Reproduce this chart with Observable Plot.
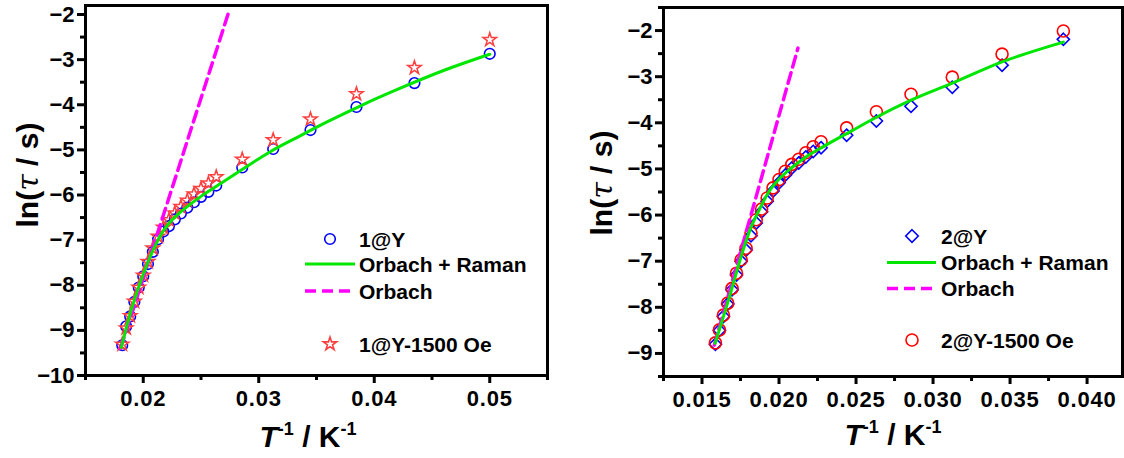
<!DOCTYPE html>
<html><head><meta charset="utf-8">
<script src="https://cdn.jsdelivr.net/npm/d3@7"></script>
<script src="https://cdn.jsdelivr.net/npm/@observablehq/plot@0.6"></script>
<style>
body{margin:0;background:#fff;}
#wrap{position:relative;width:1124px;height:458px;overflow:hidden;background:#fff;}
#wrap svg{position:absolute;top:0;}
#wrap svg g[aria-label="x-axis tick label"] text{letter-spacing:0.8px;}
</style></head><body><div id="wrap"></div>
<script>
const FONT = '"Liberation Sans", Arial, Helvetica, sans-serif';

// ---------- Left panel data (1@Y) ----------
const invT1 = [0.01818,0.01852,0.01887,0.01923,0.01961,0.02000,0.02041,0.02083,0.02128,0.02174,0.02222,0.02273,0.02326,0.02381,0.02439,0.02500,0.02564,0.02632,0.02857,0.03125,0.03448,0.03846,0.04348,0.05000];
const lnTau1Y = [-9.33,-8.91,-8.69,-8.37,-8.05,-7.80,-7.53,-7.26,-6.98,-6.81,-6.69,-6.54,-6.41,-6.28,-6.16,-6.04,-5.93,-5.79,-5.39,-4.98,-4.56,-4.05,-3.52,-2.87];
const lnTau1Oe = [-9.31,-8.95,-8.68,-8.36,-8.05,-7.78,-7.48,-7.18,-6.92,-6.72,-6.55,-6.40,-6.26,-6.12,-5.98,-5.86,-5.74,-5.60,-5.21,-4.78,-4.32,-3.76,-3.18,-2.56];
const fitX1 = [0.0181,0.0185,0.0190,0.0195,0.0200,0.0205,0.0210,0.0215,0.0220,0.0225,0.0230,0.0240,0.0250,0.0260,0.0275,0.0290,0.0310,0.0335,0.0360,0.0390,0.0420,0.0460,0.0500];
const fitY1 = [-9.38,-8.98,-8.52,-8.12,-7.76,-7.43,-7.14,-6.89,-6.70,-6.55,-6.43,-6.22,-6.03,-5.86,-5.61,-5.36,-5.04,-4.70,-4.37,-4.00,-3.66,-3.24,-2.88];
const orbX1 = [0.01803,0.02742];
const orbY1 = [-9.40,-1.93];

// ---------- Right panel data (2@Y) ----------
const invT2 = [0.01587,0.01613,0.01639,0.01667,0.01695,0.01724,0.01754,0.01786,0.01818,0.01852,0.01887,0.01923,0.01961,0.02000,0.02041,0.02083,0.02128,0.02174,0.02222,0.02273,0.02439,0.02632,0.02857,0.03125,0.03448,0.03846];
const lnTau2Y = [-8.80,-8.50,-8.20,-7.93,-7.62,-7.30,-7.00,-6.76,-6.45,-6.17,-5.93,-5.70,-5.48,-5.30,-5.13,-4.98,-4.87,-4.74,-4.62,-4.54,-4.27,-3.96,-3.64,-3.23,-2.75,-2.19];
const lnTau2Oe = [-8.77,-8.49,-8.17,-7.91,-7.59,-7.26,-6.97,-6.72,-6.39,-6.10,-5.87,-5.63,-5.41,-5.23,-5.05,-4.90,-4.79,-4.65,-4.52,-4.41,-4.11,-3.76,-3.38,-3.01,-2.51,-2.01];
const fitX2 = [0.01585,0.0163,0.0168,0.01734,0.0178,0.0182,0.0187,0.01929,0.0200,0.0208,0.0217,0.02296,0.02469,0.02632,0.02857,0.03125,0.03448,0.03846];
const fitY2 = [-8.78,-8.30,-7.75,-7.12,-6.62,-6.25,-5.90,-5.52,-5.22,-4.98,-4.75,-4.50,-4.18,-3.88,-3.51,-3.14,-2.68,-2.25];
const orbX2 = [0.01580,0.02123];
const orbY2 = [-8.82,-2.38];

// ---------- Tick values ----------
const xMajor1 = [0.02,0.03,0.04,0.05];
const xMinor1 = [0.015,0.025,0.035,0.045,0.055];
const yMajor1 = [-10,-9,-8,-7,-6,-5,-4,-3,-2];
const yMinor1 = [-9.5,-8.5,-7.5,-6.5,-5.5,-4.5,-3.5,-2.5];
const xMajor2 = [0.015,0.020,0.025,0.030,0.035,0.040];
const xMinor2 = [0.0125,0.0175,0.0225,0.0275,0.0325,0.0375];
const yMajor2 = [-9,-8,-7,-6,-5,-4,-3,-2];
const yMinor2 = [-9.5,-8.5,-7.5,-6.5,-5.5,-4.5,-3.5,-2.5,-1.5];

const zip = (xs, ys) => xs.map((x, i) => ({x, y: ys[i]}));

const BLUE = "#0000ff", GREEN = "#00e600", MAGENTA = "#ff00ff", RED = "#ff0000", STAR = "#ff4040";

function makePanel(p) {
  const chart = Plot.plot({
    width: 562, height: 458,
    marginLeft: p.ml, marginRight: p.mr, marginTop: p.mt, marginBottom: p.mb,
    x: {domain: p.xDomain},
    y: {domain: p.yDomain},
    style: {fontFamily: FONT, fontSize: "22px", fontWeight: "bold", color: "black", background: "white", overflow: "visible"},
    marks: [
      Plot.axisX({ticks: p.xMajor, tickFormat: p.xFmt, tickSize: 8, tickPadding: 7, strokeWidth: 3, fontSize: 22, fontWeight: "bold", label: null}),
      Plot.axisX({ticks: p.xMinor, tickFormat: () => "", tickSize: 5, strokeWidth: 3, label: null}),
      Plot.axisY({ticks: p.yMajor, tickSize: 8, tickPadding: 3, strokeWidth: 3, fontSize: 22, fontWeight: "bold", label: null}),
      Plot.axisY({ticks: p.yMinor, tickFormat: () => "", tickSize: 5, strokeWidth: 3, label: null}),
      ...p.marks,
      Plot.frame({stroke: "black", strokeWidth: 3})
    ]
  });
  chart.style.left = p.left + "px";
  return chart;
}

const left = makePanel({
  left: 0, ml: 85, mr: 15, mt: 5, mb: 83,
  xDomain: [0.015, 0.055], yDomain: [-10, -1.8],
  xMajor: xMajor1, xMinor: xMinor1, yMajor: yMajor1, yMinor: yMinor1,
  xFmt: d => d.toFixed(2),
  marks: [
    Plot.dot(zip(invT1, lnTau1Y), {x: "x", y: "y", r: 5.3, stroke: BLUE, strokeWidth: 1.6, fill: "none"}),
    Plot.dot(zip(invT1, lnTau1Oe), {x: "x", y: "y", r: 4.2, symbol: "star", stroke: STAR, strokeWidth: 1.5, fill: "none"}),
    Plot.line(zip(orbX1, orbY1), {x: "x", y: "y", stroke: MAGENTA, strokeWidth: 3.5, strokeDasharray: "11,6"}),
    Plot.line(zip(fitX1, fitY1), {x: "x", y: "y", stroke: GREEN, strokeWidth: 3, curve: "monotone-x"})
  ]
});

const right = makePanel({
  left: 562, ml: 101, mr: 2, mt: 7, mb: 82,
  xDomain: [0.0125, 0.0423], yDomain: [-9.5, -1.5],
  xMajor: xMajor2, xMinor: xMinor2, yMajor: yMajor2, yMinor: yMinor2,
  xFmt: d => d.toFixed(3),
  marks: [
    Plot.dot(zip(invT2, lnTau2Y), {x: "x", y: "y", r: 5.5, symbol: "diamond2", stroke: BLUE, strokeWidth: 1.6, fill: "none"}),
    Plot.dot(zip(invT2, lnTau2Oe), {x: "x", y: "y", r: 6, stroke: RED, strokeWidth: 1.6, fill: "none"}),
    Plot.line(zip(orbX2, orbY2), {x: "x", y: "y", stroke: MAGENTA, strokeWidth: 3.5, strokeDasharray: "11,6"}),
    Plot.line(zip(fitX2, fitY2), {x: "x", y: "y", stroke: GREEN, strokeWidth: 3, curve: "monotone-x"})
  ]
});

const wrap = document.getElementById("wrap");
wrap.appendChild(left);
wrap.appendChild(right);

// ---------- Titles and legends ----------
function decorate(svgNode, cfg) {
  const svg = d3.select(svgNode);
  const yt = svg.append("text")
    .attr("transform", `translate(${cfg.yTitleX},${cfg.yTitleY}) rotate(-90)`)
    .attr("text-anchor", "middle").attr("dominant-baseline", "central")
    .attr("font-family", FONT).attr("font-weight", "bold").attr("font-size", 30).attr("fill", "black");
  yt.append("tspan").text("ln(");
  yt.append("tspan").attr("font-style", "italic").attr("font-family", '"DejaVu Serif", serif').attr("font-weight", "normal").text("τ");
  yt.append("tspan").text(" / s)");
  const xt = svg.append("text")
    .attr("x", cfg.xTitleX).attr("y", cfg.xTitleY)
    .attr("text-anchor", "middle")
    .attr("font-family", FONT).attr("font-weight", "bold").attr("font-size", 30).attr("fill", "black");
  xt.append("tspan").attr("font-style", "italic").text("T");
  xt.append("tspan").attr("font-size", 18).attr("dy", -12).text("-1");
  xt.append("tspan").attr("dy", 12).text(" / K");
  xt.append("tspan").attr("font-size", 18).attr("dy", -12).text("-1");

  const L = cfg.legend;
  const g = svg.append("g").attr("font-family", FONT).attr("font-weight", "bold").attr("font-size", 21)
    .attr("fill", "black").attr("text-anchor", "start");
  const txt = (y, s) => g.append("text").attr("x", L.textX).attr("y", y).attr("dominant-baseline", "central").attr("text-anchor", "start").text(s);
  g.append("path").attr("transform", `translate(${L.symX},${L.y[0]})`)
    .attr("d", d3.symbol(L.sym1, L.sym1Size)()).attr("fill", "none").attr("stroke", L.sym1Color).attr("stroke-width", 1.6);
  txt(L.y[0], L.labels[0]);
  g.append("line").attr("x1", L.lineX1).attr("x2", L.lineX2).attr("y1", L.y[1]).attr("y2", L.y[1])
    .attr("stroke", GREEN).attr("stroke-width", 3);
  txt(L.y[1], L.labels[1]);
  g.append("line").attr("x1", L.lineX1).attr("x2", L.lineX2).attr("y1", L.y[2]).attr("y2", L.y[2])
    .attr("stroke", MAGENTA).attr("stroke-width", 3.5).attr("stroke-dasharray", "11,6");
  txt(L.y[2], L.labels[2]);
  g.append("path").attr("transform", `translate(${L.symX},${L.y[3]})`)
    .attr("d", d3.symbol(L.sym2, L.sym2Size)()).attr("fill", "none").attr("stroke", L.sym2Color).attr("stroke-width", 1.6);
  txt(L.y[3], L.labels[3]);
}

decorate(left, {
  yTitleX: 27, yTitleY: 175, xTitleX: 308, xTitleY: 447,
  legend: {symX: 330, textX: 359, lineX1: 305, lineX2: 355, y: [239, 264, 291, 344],
    labels: ["1@Y", "Orbach + Raman", "Orbach", "1@Y-1500 Oe"],
    sym1: d3.symbolCircle, sym1Size: 88, sym1Color: BLUE,
    sym2: d3.symbolStar, sym2Size: 55, sym2Color: STAR}
});
decorate(right, {
  yTitleX: 601 - 562, yTitleY: 183, xTitleX: 893 - 562, xTitleY: 445,
  legend: {symX: 912 - 562, textX: 941 - 562, lineX1: 887 - 562, lineX2: 936 - 562, y: [236, 262.5, 288.5, 340],
    labels: ["2@Y", "Orbach + Raman", "Orbach", "2@Y-1500 Oe"],
    sym1: d3.symbolDiamond2, sym1Size: 100, sym1Color: BLUE,
    sym2: d3.symbolCircle, sym2Size: 113, sym2Color: RED}
});
</script></body></html>
